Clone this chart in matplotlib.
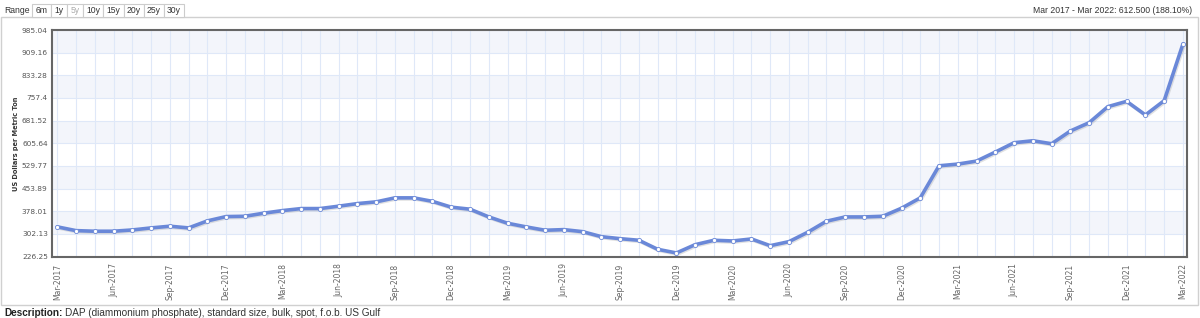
import matplotlib
matplotlib.use("Agg")
import matplotlib.pyplot as plt
import matplotlib.patheffects as pe
from matplotlib.patches import Rectangle
import numpy as np

# ---- data ----
months = ["Mar-2017", "Apr-2017", "May-2017", "Jun-2017", "Jul-2017", "Aug-2017", "Sep-2017",
          "Oct-2017", "Nov-2017", "Dec-2017", "Jan-2018", "Feb-2018", "Mar-2018", "Apr-2018",
          "May-2018", "Jun-2018", "Jul-2018", "Aug-2018", "Sep-2018", "Oct-2018", "Nov-2018",
          "Dec-2018", "Jan-2019", "Feb-2019", "Mar-2019", "Apr-2019", "May-2019", "Jun-2019",
          "Jul-2019", "Aug-2019", "Sep-2019", "Oct-2019", "Nov-2019", "Dec-2019", "Jan-2020",
          "Feb-2020", "Mar-2020", "Apr-2020", "May-2020", "Jun-2020", "Jul-2020", "Aug-2020",
          "Sep-2020", "Oct-2020", "Nov-2020", "Dec-2020", "Jan-2021", "Feb-2021", "Mar-2021",
          "Apr-2021", "May-2021", "Jun-2021", "Jul-2021", "Aug-2021", "Sep-2021", "Oct-2021",
          "Nov-2021", "Dec-2021", "Jan-2022", "Feb-2022", "Mar-2022"]
prices = [325.6, 312.9, 310.9, 310.9, 315.2, 322.0, 327.7, 322.0, 345.5, 360.0,
          361.0, 371.3, 380.0, 386.8, 386.8, 394.8, 403.5, 409.3, 422.7, 422.7,
          411.0, 391.5, 384.7, 358.9, 337.7, 325.3, 314.2, 316.3, 309.5, 292.7,
          286.0, 280.6, 250.4, 238.1, 265.9, 280.6, 278.3, 285.0, 262.5, 276.0,
          307.5, 344.5, 358.8, 358.8, 361.0, 388.0, 422.7, 530.1, 535.8, 545.9,
          576.1, 607.4, 614.0, 604.0, 646.7, 674.5, 728.3, 746.0, 700.4, 748.4,
          938.1]
y_ticks = [226.25, 302.13, 378.01, 453.89, 529.77, 605.64, 681.52, 757.4, 833.28, 909.16, 985.04]
y_tick_labels = ["226.25", "302.13", "378.01", "453.89", "529.77", "605.64", "681.52",
                 "757.4", "833.28", "909.16", "985.04"]
range_buttons = ["6m", "1y", "5y", "10y", "15y", "20y", "25y", "30y"]
header_text = "Mar 2017 - Mar 2022: 612.500 (188.10%)"
y_label = "US Dollars per Metric Ton"
desc_bold = "Description:"
desc_text = "DAP (diammonium phosphate), standard size, bulk, spot, f.o.b. US Gulf"

W, H = 1200, 318
fig = plt.figure(figsize=(W / 100, H / 100), dpi=100)
fig.patch.set_facecolor("white")

def fx(px):
    return px / W

def fy(py):
    return 1 - py / H

# outer container
fig.patches.append(Rectangle((fx(1), fy(305)), fx(1198) - fx(1), fy(17) - fy(305),
                             transform=fig.transFigure, fill=False, edgecolor="#d0d0d0",
                             linewidth=1.0, zorder=0))

# plot area
left, right, top, bottom = 52, 1186.5, 30, 256.5
ax = fig.add_axes([fx(left), fy(bottom), fx(right) - fx(left), fy(top) - fy(bottom)])
x = np.arange(len(months))
ax.set_xlim(-0.28, len(months) - 1 + 0.19)
ax.set_ylim(y_ticks[0], y_ticks[-1])

# alternating bands
for i in range(len(y_ticks) - 1):
    if i % 2 == 1:
        ax.axhspan(y_ticks[i], y_ticks[i + 1], color="#f3f5fb", zorder=0, lw=0)

ax.set_yticks(y_ticks)
ax.set_yticklabels(y_tick_labels)
ax.set_xticks(x[::3])
ax.set_xticklabels(months[::3], rotation=90, va="top", ha="center")
ax.set_xticks(x, minor=True)
ax.grid(True, which="both", axis="x", color="#dfe8f8", linewidth=0.8, zorder=1)
ax.grid(True, which="major", axis="y", color="#dfe8f8", linewidth=0.8, zorder=1)
ax.set_axisbelow(True)
ax.tick_params(axis="both", which="both", length=0)
ax.tick_params(axis="y", labelsize=5.3, labelcolor="#555555", pad=3)
ax.tick_params(axis="x", labelsize=5.5, labelcolor="#666666", pad=5)
for s in ax.spines.values():
    s.set_color("#666666")
    s.set_linewidth(1.5)

ax.plot(x, prices, color="#6a88d8", linewidth=2.6, zorder=3,
        solid_joinstyle="round", solid_capstyle="round",
        path_effects=[pe.SimpleLineShadow(offset=(0.8, -0.8), shadow_color="#888888", alpha=0.25),
                      pe.Normal()])
ax.plot(x, prices, linestyle="none", marker="o", markersize=3.0, markerfacecolor="white",
        markeredgecolor="#6a88d8", markeredgewidth=0.6, zorder=4)

fig.text(fx(16), fy(144), y_label, rotation=90, ha="center", va="center",
         fontsize=4.8, fontweight="bold", color="#333333", family="DejaVu Sans")

# range buttons
fig.text(fx(4), fy(10.5), "Range", ha="left", va="center", fontsize=6.2, color="#333333",
         family="Liberation Sans")
edges = [32, 51, 67, 83, 103, 124, 144, 164, 184]
for i, lab in enumerate(range_buttons):
    x0, x1 = edges[i], edges[i + 1]
    fig.patches.append(Rectangle((fx(x0), fy(16.7)), fx(x1) - fx(x0), fy(4) - fy(16.7),
                                 transform=fig.transFigure, facecolor="white",
                                 edgecolor="#cccccc", linewidth=0.8))
    fig.text(fx((x0 + x1) / 2), fy(10.5), lab, ha="center", va="center", fontsize=6.2,
             color="#aaaaaa" if lab == "5y" else "#333333", family="Liberation Sans")

fig.text(fx(1192), fy(10.5), header_text, ha="right", va="center", fontsize=6.2,
         color="#333333", family="Liberation Sans")

t = fig.text(fx(4), fy(308.5), desc_bold, ha="left", va="top", fontsize=7.2,
             fontweight="bold", color="#222222", family="Liberation Sans")
fig.canvas.draw()
bb = t.get_window_extent()
fig.text(bb.x1 / W + fx(3), fy(308.5), desc_text, ha="left", va="top", fontsize=7.2,
         color="#333333", family="Liberation Sans")

fig.savefig("out.png", dpi=100, facecolor="white")
